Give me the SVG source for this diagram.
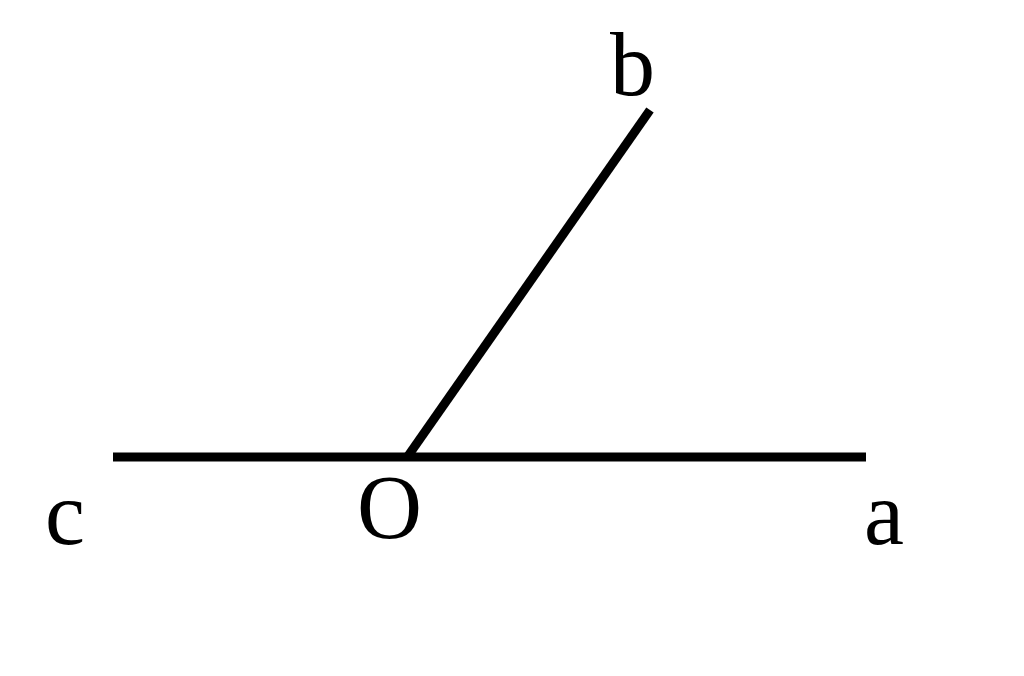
<svg xmlns="http://www.w3.org/2000/svg" width="1024" height="676" viewBox="0 0 1024 676">
<style>
.ln{stroke:#000;stroke-width:9;stroke-linecap:butt;fill:none}
.lb{font-family:"Liberation Serif","Times New Roman",serif;font-size:90px;fill:#000}
</style>
<rect width="1024" height="676" fill="#fff"/>
<g id="connectors">
<line class="ln" x1="113" y1="457" x2="866" y2="457"/>
<line class="ln" x1="408" y1="456" x2="650" y2="110"/>
</g>
<g id="label-b"><text class="lb" x="610" y="95">b</text></g>
<g id="label-c"><text class="lb" x="45" y="544">c</text></g>
<g id="label-O"><text class="lb" x="357" y="538">O</text></g>
<g id="label-a"><text class="lb" x="864" y="544">a</text></g>
</svg>
